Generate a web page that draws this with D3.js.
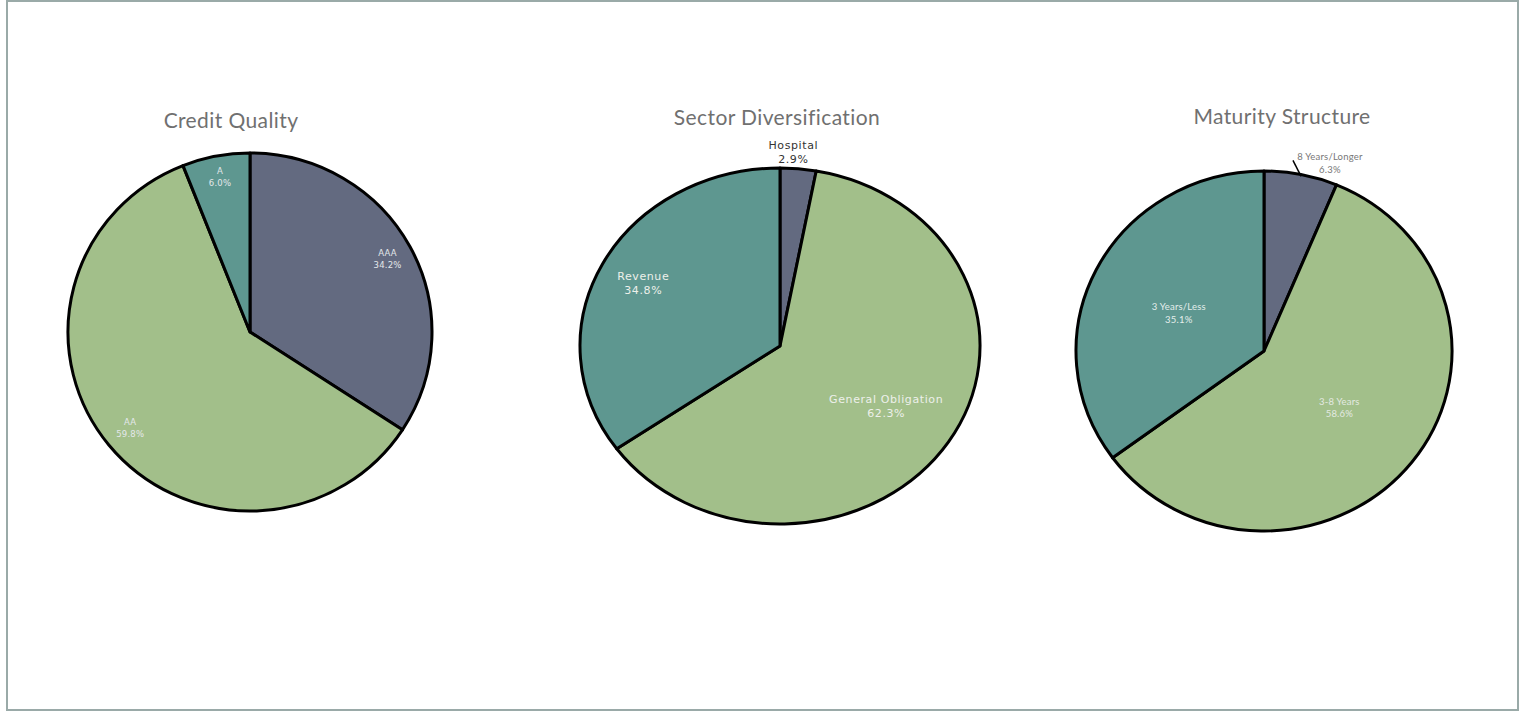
<!DOCTYPE html>
<html><head><meta charset="utf-8">
<script src="https://cdn.jsdelivr.net/npm/d3@7"></script>
<style>body{margin:0;background:#fff}svg{display:block}</style>
</head><body>
<svg id="c" width="1523" height="713"></svg>
<script>
// Data
const chartTitles = ["Credit Quality", "Sector Diversification", "Maturity Structure"];
const creditCategories = ["AAA", "AA", "A"];
const creditValues = [34.2, 59.8, 6.0];
const sectorCategories = ["Hospital", "General Obligation", "Revenue"];
const sectorValues = [2.9, 62.3, 34.8];
const maturityCategories = ["8 Years/Longer", "3-8 Years", "3 Years/Less"];
const maturityValues = [6.3, 58.6, 35.1];
const sliceColors = ["#636a80", "#a2bf8a", "#5e9790"];

// Layout (not data)
const layouts = [
  {cx:250, cy:332, rx:182, ry:179, tx:231, ty:128, font:"DejaVu Sans", fs:8.5, lh:12,
   labels:[{r:0.86,col:"#e4e8ea"},{r:0.85,col:"#e4e8ea"},{r:0.88,col:"#e4e8ea"}]},
  {cx:780, cy:346, rx:200, ry:178, tx:777, ty:125, font:"DejaVu Sans", fs:11, lh:14,
   labels:[{r:1.09,col:"#333",ang:3.5},{r:0.63,col:"#edf0ea"},{r:0.77,col:"#edf0ea"}]},
  {cx:1264, cy:351, rx:188, ry:180, tx:1282, ty:124, font:"Lato", fs:9.5, lh:12.5,
   labels:[{r:1.10,col:"#777",ang:18.6,leader:true,lang:11.5},{r:0.51,col:"#e4eae2"},{r:0.5,col:"#e4eeec",ang:295}]}
];

const svg = d3.select("#c");
svg.append("rect").attr("x",7).attr("y",1).attr("width",1511).attr("height",709)
  .attr("fill","none").attr("stroke","#9aaaa8").attr("stroke-width",2);

const datasets = [
  {cats:creditCategories, vals:creditValues},
  {cats:sectorCategories, vals:sectorValues},
  {cats:maturityCategories, vals:maturityValues}
];

const pie = d3.pie().sort(null).value(d => d);

datasets.forEach((ds, i) => {
  const L = layouts[i];
  svg.append("text").attr("x", L.tx).attr("y", L.ty).attr("text-anchor","middle")
    .attr("font-family","Lato, 'Open Sans', sans-serif").attr("font-size",21)
    .attr("fill","#707070").attr("letter-spacing",0.4).text(chartTitles[i]);

  const arcs = pie(ds.vals);
  const arc = d3.arc().innerRadius(0).outerRadius(L.ry);
  const g = svg.append("g").attr("transform", `translate(${L.cx},${L.cy}) scale(${L.rx/L.ry},1)`);
  g.selectAll("path").data(arcs).join("path")
    .attr("d", arc).attr("fill", (d,j) => sliceColors[j])
    .attr("stroke","#000").attr("stroke-width",3).attr("stroke-linejoin","round")
    .attr("vector-effect","non-scaling-stroke");

  arcs.forEach((a, j) => {
    const lb = L.labels[j];
    const angDeg = lb.ang !== undefined ? lb.ang : (a.startAngle + a.endAngle) / 2 * 180 / Math.PI;
    const t = angDeg * Math.PI / 180;
    const x = L.cx + Math.sin(t) * L.rx * lb.r;
    const y = L.cy - Math.cos(t) * L.ry * lb.r;
    if (lb.leader) {
      const lt = lb.lang * Math.PI / 180;
      const ex = L.cx + Math.sin(lt) * L.rx * 0.99;
      const ey = L.cy - Math.cos(lt) * L.ry * 0.99;
      svg.append("line").attr("x1", ex).attr("y1", ey).attr("x2", x - 37).attr("y2", y - 3)
        .attr("stroke","#000").attr("stroke-width",1.5);
    }
    const txt = svg.append("text").attr("text-anchor","middle")
      .attr("font-family", L.font).attr("font-size", L.fs).attr("fill", lb.col)
      .attr("letter-spacing", i===1 ? 0.6 : 0.2);
    txt.append("tspan").attr("x", x).attr("y", y - L.lh/2 + L.fs*0.35).text(ds.cats[j]);
    txt.append("tspan").attr("x", x).attr("y", y + L.lh/2 + L.fs*0.35).text(ds.vals[j].toFixed(1) + "%");
  });
});
</script>
</body></html>
